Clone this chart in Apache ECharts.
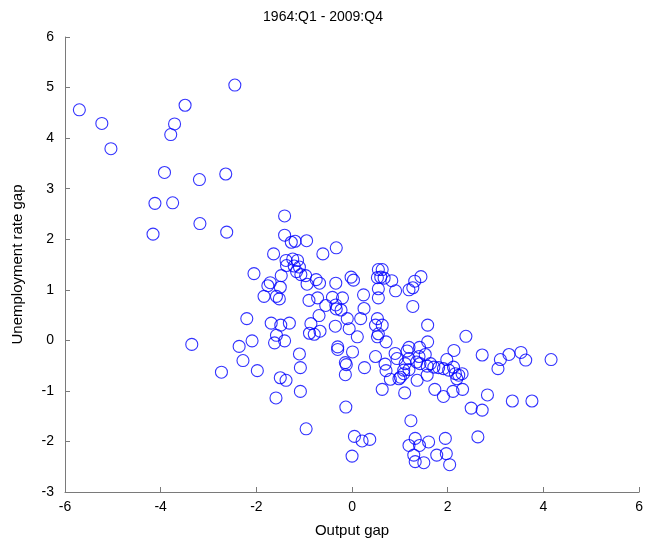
<!DOCTYPE html>
<html>
<head>
<meta charset="utf-8">
<script src="https://cdn.jsdelivr.net/npm/echarts@6/dist/echarts.min.js"></script>
<style>
html,body{margin:0;padding:0;background:#fff;}
#chart{width:646px;height:546px;}
</style>
</head>
<body>
<div id="chart"></div>
<script>
const titleText = "1964:Q1 - 2009:Q4";
const xAxisName = "Output gap";
const yAxisName = "Unemployment rate gap";

const outputGap = [
-5.70,-5.23,-5.04,-2.45,-3.49,-3.71,-3.79,-3.92,-3.19,-2.64,-4.12,-3.75,-3.18,-4.16,-2.62,
-1.41,-1.41,-1.27,-1.19,-0.95,-0.33,-0.61,-1.64,
-1.38,-1.24,-1.14,-1.37,-1.21,-1.10,-1.16,-1.07,
-2.05,-1.48,-1.71,-1.76,-1.50,-1.84,-1.58,-1.52,-0.97,-0.94,-0.75,-0.68,-0.34,-0.02,0.03,0.24,
0.55,0.63,0.53,0.60,0.67,0.83,0.91,0.55,0.55,
-0.90,-0.72,-0.41,-0.20,-0.55,-0.34,-0.33,-0.23,0.25,-0.69,-0.10,0.18,0.53,-0.86,
-0.89,-0.79,-0.67,-0.35,-0.06,0.49,0.63,0.55,0.53,0.71,0.11,-0.30,-0.30,0.01,-1.10,0.49,0.90,
-1.69,-1.49,-1.31,-1.58,-1.41,-1.62,-1.08,
-2.20,-2.09,-2.36,-3.35,-2.73,-2.28,-1.98,-1.50,-1.38,-1.08,-1.59,-0.96,
-0.14,-0.12,-0.14,0.26,-0.13,0.05,0.21,0.37,0.00,0.69,0.71,0.80,0.63,0.94,0.98,
1.44,1.31,1.19,1.27,1.27,1.58,2.38,1.58,1.19,1.41,1.15,2.13,
1.19,1.40,1.53,1.11,1.35,1.42,1.64,1.98,1.08,1.19,1.57,1.71,1.81,1.91,2.02,2.12,
1.01,1.08,1.36,1.57,2.16,2.23,2.30,2.19,
1.10,1.73,1.91,2.11,2.31,2.83,2.49,2.72,3.35,3.76,2.72,3.10,3.28,3.53,3.63,3.05,4.16,
1.23,1.32,1.19,1.41,1.60,1.95,2.63,1.29,1.32,1.50,1.77,1.97,2.04
];
const unempGap = [
4.56,4.29,3.79,5.05,4.65,4.28,4.07,3.32,3.18,3.29,2.71,2.72,2.31,2.10,2.14,
2.46,2.08,1.94,1.96,1.97,1.83,1.71,1.71,
1.58,1.61,1.58,1.48,1.47,1.45,1.36,1.30,
1.32,1.28,1.14,1.08,1.05,0.87,0.87,0.82,1.28,1.11,1.20,1.13,1.13,1.25,1.19,0.90,
1.40,1.40,1.24,1.25,1.23,1.18,0.98,1.02,0.84,
0.79,0.84,0.85,0.84,0.69,0.70,0.62,0.60,0.63,0.49,0.43,0.43,0.43,0.33,
0.14,0.12,0.18,0.28,0.23,0.30,0.30,0.13,0.07,-0.03,0.07,-0.13,-0.18,-0.23,-0.27,-0.32,-0.26,
0.34,0.30,0.34,0.10,-0.01,-0.05,-0.54,
0.43,-0.01,-0.12,-0.08,-0.63,-0.40,-0.60,-0.74,-0.79,-1.01,-1.14,-1.75,
-0.44,-0.48,-0.68,-0.54,-1.32,-1.90,-1.99,-1.96,-2.29,-0.47,-0.60,-0.77,-0.97,-0.36,-0.76,
1.26,1.17,1.00,1.04,0.67,0.30,0.08,-0.03,-0.14,-0.14,-0.21,-0.20,
-0.36,-0.32,-0.28,-0.46,-0.43,-0.46,-0.46,-0.38,-0.59,-0.58,-0.51,-0.53,-0.54,-0.56,-0.59,-0.53,
-0.73,-0.66,-0.79,-0.69,-0.66,-0.69,-0.66,-0.76,
-1.04,-0.97,-1.11,-1.01,-0.97,-1.08,-1.34,-1.38,-1.20,-1.20,-0.29,-0.38,-0.28,-0.24,-0.39,-0.56,-0.38,
-1.59,-1.94,-2.08,-2.08,-2.01,-1.94,-1.91,-2.27,-2.40,-2.42,-2.27,-2.24,-2.46
];
const xTicks = {min: -6, max: 6, interval: 2};
const yTicks = {min: -3, max: 6, interval: 1};

const points = outputGap.map((x, i) => [x, unempGap[i]]);

const font = "Liberation Sans, Arial, sans-serif";
const axisGray = "#7a7a7a";

const chart = echarts.init(document.getElementById('chart'), null, {renderer: 'canvas'});
chart.setOption({
  animation: false,
  backgroundColor: '#ffffff',
  title: {
    text: titleText,
    left: 'center',
    top: 5,
    textStyle: {fontFamily: font, fontSize: 14, fontWeight: 'normal', color: '#000'}
  },
  grid: {left: 65, right: 4, top: 37, bottom: 54, containLabel: false},
  xAxis: {
    type: 'value',
    min: xTicks.min, max: xTicks.max, interval: xTicks.interval,
    name: xAxisName,
    nameLocation: 'middle',
    nameGap: 31,
    nameTextStyle: {fontFamily: font, fontSize: 15, color: '#000'},
    axisLine: {show: true, onZero: false, lineStyle: {color: axisGray, width: 1}},
    axisTick: {show: true, inside: true, length: 5, lineStyle: {color: axisGray}},
    axisLabel: {fontFamily: font, fontSize: 14, color: '#000', margin: 8},
    splitLine: {show: false}
  },
  yAxis: {
    type: 'value',
    min: yTicks.min, max: yTicks.max, interval: yTicks.interval,
    name: yAxisName,
    nameLocation: 'middle',
    nameGap: 40,
    nameRotate: 90,
    nameTextStyle: {fontFamily: font, fontSize: 15, color: '#000'},
    axisLine: {show: true, onZero: false, lineStyle: {color: axisGray, width: 1}},
    axisTick: {show: true, inside: true, length: 5, lineStyle: {color: axisGray}},
    axisLabel: {fontFamily: font, fontSize: 14, color: '#000', margin: 11},
    splitLine: {show: false}
  },
  series: [{
    type: 'scatter',
    data: points,
    symbol: 'circle',
    symbolSize: 12,
    itemStyle: {color: 'rgba(0,0,0,0)', borderColor: '#0000ff', borderWidth: 1.1},
    emphasis: {disabled: true}
  }]
});
</script>
</body>
</html>
